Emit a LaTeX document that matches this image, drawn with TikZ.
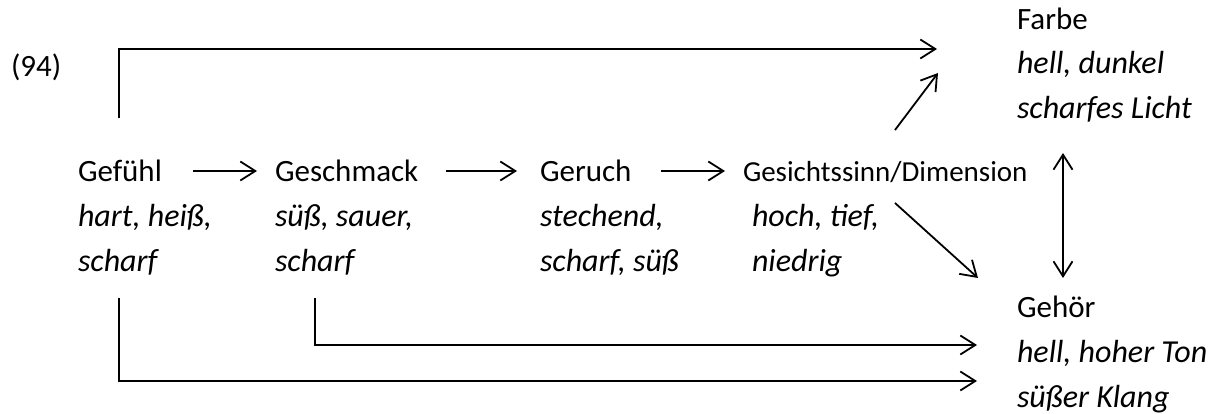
\documentclass[tikz,border=0pt]{standalone}
\usepackage{fontspec}
\setmainfont{Carlito}
\usetikzlibrary{arrows.meta}
\tikzset{
  txt/.style={anchor=base west, inner sep=0pt, outer sep=0pt, font=\fontsize{31}{45}\selectfont, align=left},
  ital/.style={txt, font=\fontsize{32}{45}\selectfont\itshape},
  small/.style={txt, font=\fontsize{29}{45}\selectfont},
  conn/.style={line width=1.8pt, -{Straight Barb[length=15pt,width=19pt,line width=1.8pt]}},
  dconn/.style={line width=1.8pt, {Straight Barb[length=15pt,width=19pt,line width=1.8pt]}-{Straight Barb[length=15pt,width=19pt,line width=1.8pt]}},
  plain/.style={line width=1.8pt}
}
\begin{document}
\begin{tikzpicture}[x=1pt,y=-1pt]
\useasboundingbox (0,0) rectangle (1216,414);
% texts (multi-line nodes are placed at the baseline of their last line)
\node[txt] (n94) at (11,77) {(94)};
\node[txt] (gef) at (78,182) {Gefühl};
\node[ital] (gefI) at (78,272) {hart, heiß,\\scharf};
\node[txt] (ges) at (275,182) {Geschmack};
\node[ital] (gesI) at (275,272) {süß, sauer,\\scharf};
\node[txt] (ger) at (540,182) {Geruch};
\node[ital] (gerI) at (540,272) {stechend,\\scharf, süß};
\node[small] (gsi) at (743,182) {Gesichtssinn/Dimension};
\node[ital] (gsiI) at (752,272) {hoch, tief,\\niedrig};
\node[txt] (far) at (1017,30) {Farbe};
\node[ital] (farI) at (1017,119) {hell, dunkel\\scharfes Licht};
\node[txt] (geh) at (1017,317) {Gehör};
\node[ital] (gehI) at (1017,407) {hell, hoher Ton\\süßer Klang};
% connector end points
\coordinate (a1s) at (193,171); \coordinate (a1e) at (257,171);
\coordinate (a2s) at (446,171); \coordinate (a2e) at (517,171);
\coordinate (a3s) at (661,171); \coordinate (a3e) at (725,171);
\coordinate (tops) at (119,118); \coordinate (tope) at (937,49);
\coordinate (ups) at (895,130); \coordinate (upe) at (938,73);
\coordinate (dns) at (895,203); \coordinate (dne) at (978,278);
\coordinate (vs) at (1063,153); \coordinate (ve) at (1063,278);
\coordinate (b1s) at (315,298); \coordinate (b1e) at (977,345);
\coordinate (b2s) at (119,298); \coordinate (b2e) at (977,381);
% connectors
\draw[conn] (a1s) -- (a1e);
\draw[conn] (a2s) -- (a2e);
\draw[conn] (a3s) -- (a3e);
\draw[conn] (tops) |- (tope);
\draw[conn] (ups) -- (upe);
\draw[conn] (dns) -- (dne);
\draw[dconn] (vs) -- (ve);
\draw[conn] (b1s) |- (b1e);
\draw[conn] (b2s) |- (b2e);
\end{tikzpicture}
\end{document}
